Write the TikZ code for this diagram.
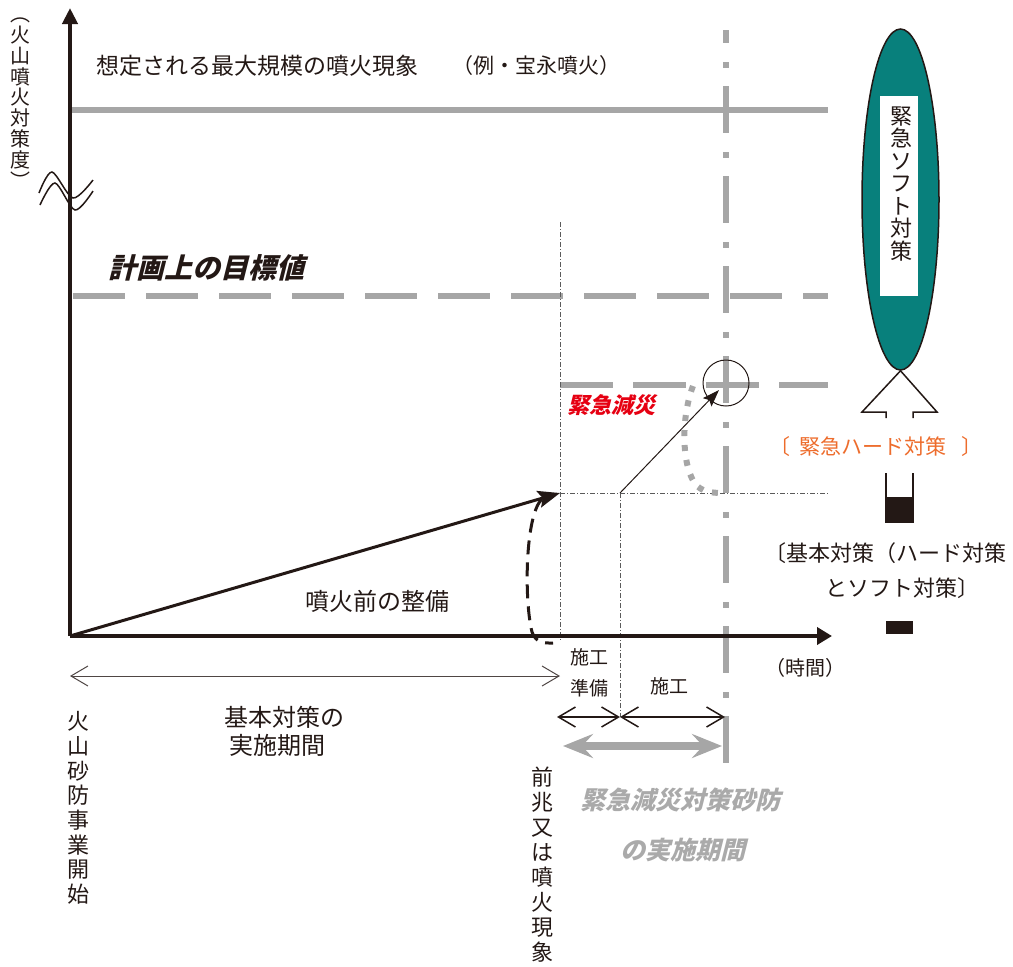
\documentclass[tikz,border=0pt]{standalone}
\usepackage{fontspec}
\setmainfont{Noto Sans CJK JP}
\newfontfamily\jpsl{Noto Sans CJK JP}[FakeSlant=0.25]
\usetikzlibrary{arrows.meta,shapes.geometric}
\definecolor{axisc}{RGB}{35,24,21}
\definecolor{lgray}{RGB}{166,166,166}
\definecolor{tgray}{RGB}{170,170,170}
\definecolor{dgray}{RGB}{90,90,90}
\definecolor{tealc}{RGB}{8,128,124}
\definecolor{redc}{RGB}{230,0,18}
\definecolor{orangec}{RGB}{237,108,44}
\tikzset{
  axisline/.style={line width=4.5pt, draw=axisc},
  gline/.style={line width=6pt, draw=lgray},
  thindd/.style={line width=0.8pt, draw=dgray, dash pattern=on 5pt off 2pt on 1pt off 2pt},
  txt/.style={inner sep=0pt, text=axisc},
  vtxt/.style={inner sep=0pt, text=axisc, align=center},
  barbs/.style={{Straight Barb[length=17pt,width=20pt]}-{Straight Barb[length=17pt,width=20pt]}},
}
\begin{document}
\begin{tikzpicture}[x=1pt,y=-1pt]
\useasboundingbox (0,0) rectangle (1013,967);
% coordinates
\coordinate (O) at (70,636);
\coordinate (Ytop) at (70,8);
\coordinate (Xend) at (832,636);
\coordinate (P) at (560,493);
\coordinate (Q) at (620,493);
\coordinate (R) at (719,390);

% gray reference lines
\draw[gline] (72,110) -- (828,110);
\draw[gline, dash pattern=on 52pt off 21pt] (73,296) -- (828,296);
\draw[gline, dash pattern=on 53pt off 20pt] (560,385) -- (828,385);
\draw[gline, dash pattern=on 47pt off 19pt on 6pt off 18pt, dash phase=34pt] (726,30) -- (726,763);

% thin dash-dot guides
\draw[thindd] (560,222) -- (560,640);
\draw[thindd] (P) -- (828,493);
\draw[thindd] (Q) -- (620,717);

% axes
\draw[axisline, -{Triangle[length=16pt,width=15pt]}] (O) -- (Ytop);
\draw[axisline, -{Triangle[length=15pt,width=17pt]}] (O) -- (Xend);

% wavy break marks
\draw[line width=1.5pt, axisc] plot[smooth] coordinates {(39,193) (52,172) (73,198) (93,180)};
\draw[line width=1.5pt, axisc] plot[smooth] coordinates {(40,205) (55,183) (75,210) (93,191)};

% main arrow
\draw[line width=3pt, axisc, -{Stealth[length=22pt,width=17pt,inset=4pt]}] (O) -- (P);
% emergency arrow
\node[circle, draw=axisc, line width=1pt, minimum size=46pt, inner sep=0pt] (circ) at (726,383) {};
\draw[line width=1pt, axisc, -{Stealth[length=17pt,width=12pt,inset=3pt]}] (Q) -- (R);

% dotted gray curve
\draw[gline, dash pattern=on 6pt off 9pt] (693,386) .. controls (680,420) and (682,470) .. (697,486) .. controls (705,493) and (715,493) .. (726,493);
% black dashed curve
\draw[line width=3pt, axisc, dash pattern=on 14pt off 8pt] (542,499) .. controls (525,515) and (524,600) .. (532,632) .. controls (536,644) and (546,643) .. (553,643);

% period arrows
\draw[line width=1pt, axisc!80, barbs] (70,676) -- (560,676);
\draw[line width=1.5pt, axisc, barbs] (557,717) -- (620,717);
\draw[line width=1.5pt, axisc, barbs] (620,717) -- (725,717);
\draw[line width=8pt, lgray, {Stealth[length=30pt,width=24pt,inset=11pt]}-{Stealth[length=30pt,width=24pt,inset=11pt]}] (563,746) -- (722,746);

% texts
\node[txt, anchor=west, font=\fontsize{23}{26}\selectfont] (title) at (96,66) {想定される最大規模の噴火現象};
\node[txt, anchor=west, font=\fontsize{21}{24}\selectfont] (ex) at (452,66) {（例・宝永噴火）};
\node[txt, font=\jpsl\bfseries\fontsize{28}{30}\selectfont] (plan) at (206,268) {計画上の目標値};
\node[txt, font=\fontsize{24}{26}\selectfont] (pre) at (377,601) {噴火前の整備};
\node[txt, text=redc, font=\jpsl\bfseries\fontsize{22}{24}\selectfont] (gen) at (611,405) {緊急減災};
\node[txt, font=\fontsize{24}{26}\selectfont] (kihon1) at (284,717) {基本対策の};
\node[txt, font=\fontsize{24}{26}\selectfont] (kihon2) at (277,745) {実施期間};
\node[txt, font=\fontsize{19}{21}\selectfont] (seko1) at (589,657) {施工};
\node[txt, font=\fontsize{19}{21}\selectfont] (jumbi) at (589,688) {準備};
\node[txt, font=\fontsize{19}{21}\selectfont] (seko2) at (669,686) {施工};
\node[txt, font=\fontsize{20}{22}\selectfont] (time) at (805,668) {（時間）};
\node[txt, text=tgray, font=\jpsl\bfseries\fontsize{25}{27}\selectfont] (em1) at (680,800) {緊急減災対策砂防};
\node[txt, text=tgray, font=\jpsl\bfseries\fontsize{25}{27}\selectfont] (em2) at (683,850) {の実施期間};

% vertical texts
\node[vtxt, font=\fontsize{20}{20.8}\selectfont] (ylab) at (20,103) {︵\\火\\山\\噴\\火\\対\\策\\度\\︶};
\node[vtxt, font=\fontsize{22}{24.7}\selectfont] (start) at (78,808) {火\\山\\砂\\防\\事\\業\\開\\始};
\node[vtxt, font=\fontsize{22}{25}\selectfont] (omen) at (542,865) {前\\兆\\又\\は\\噴\\火\\現\\象};

% right side: emergency soft measures
\node[ellipse, draw=axisc, line width=1.5pt, fill=tealc, minimum width=77pt, minimum height=341pt, inner sep=0pt] (ell) at (900.5,199.5) {};
\node[fill=white, minimum width=38pt, minimum height=200pt, inner sep=0pt] (box) at (899,196) {};
\node[vtxt, font=\fontsize{22}{22.5}\selectfont] (soft) at (901,184) {緊\\急\\ソ\\フ\\ト\\対\\策};
\draw[line width=1.5pt, axisc] (886,418) -- (886,412) -- (862,412) -- (ell.south) -- (937,412) -- (913,412) -- (913,418);
\node[txt, text=orangec, font=\fontsize{21}{23}\selectfont] (hard) at (876,447) {〔\hspace{9pt}緊急ハード対策\hspace{15pt}〕};
\draw[line width=1.5pt, axisc] (886,473) -- (886,522) -- (913,522) -- (913,473);
\fill[axisc] (886,497) rectangle (913,522);
\node[txt, font=\fontsize{22}{24}\selectfont] (basic1) at (885,553) {〔基本対策（ハード対策};
\node[txt, font=\fontsize{22}{24}\selectfont] (basic2) at (902,588) {とソフト対策〕};
\fill[axisc] (886,621) rectangle (913,634);
\end{tikzpicture}
\end{document}
